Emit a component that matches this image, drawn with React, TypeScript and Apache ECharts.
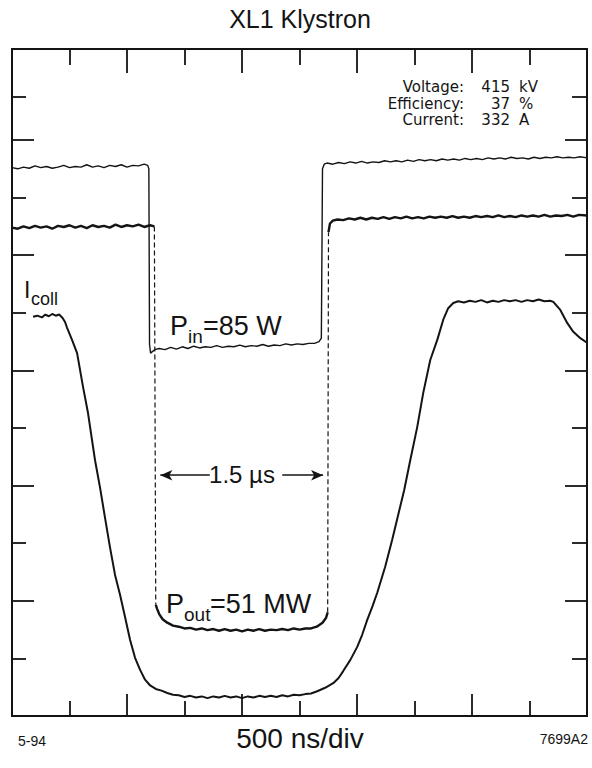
import React, { useEffect, useRef } from "react";
import * as echarts from "echarts";

// time axis in ns (500 ns/div), vertical axis in scope divisions
const xMajorTicks = [1000, 2000, 3000, 4000];
const xMinorTicks = [500, 1500, 2500, 3500, 4500];
const yMajorTicks = [2, 4, 6, 8, 10];
const yMinorTicks = [1, 3, 5, 7, 9, 10.75];

const pInTrace: [number, number][] = [
  [0, 9.52], [50, 9.5], [100, 9.53], [150, 9.51], [200, 9.55], [250, 9.52], [300, 9.54], [350, 9.51],
  [400, 9.53], [450, 9.56], [500, 9.52], [550, 9.54], [600, 9.53], [650, 9.57], [700, 9.53], [750, 9.55],
  [800, 9.52], [850, 9.56], [900, 9.54], [950, 9.57], [1000, 9.53], [1050, 9.56], [1100, 9.55], [1150, 9.58],
  [1180, 9.56], [1190, 9.5], [1196, 6.45], [1205, 6.3], [1240, 6.36], [1280, 6.38], [1330, 6.36], [1380, 6.4],
  [1430, 6.37], [1480, 6.41], [1530, 6.38], [1580, 6.42], [1630, 6.39], [1680, 6.41], [1730, 6.4], [1780, 6.43],
  [1830, 6.4], [1880, 6.42], [1930, 6.41], [1980, 6.44], [2030, 6.41], [2080, 6.43], [2130, 6.42], [2180, 6.45],
  [2230, 6.42], [2280, 6.44], [2330, 6.43], [2380, 6.46], [2430, 6.44], [2480, 6.46], [2530, 6.45], [2580, 6.47],
  [2630, 6.47], [2670, 6.5], [2690, 6.56], [2700, 9.5], [2715, 9.58], [2740, 9.6], [2790, 9.58], [2840, 9.61],
  [2890, 9.59], [2940, 9.62], [2990, 9.6], [3040, 9.63], [3090, 9.6], [3140, 9.62], [3190, 9.61], [3240, 9.64],
  [3290, 9.62], [3340, 9.64], [3390, 9.62], [3440, 9.65], [3490, 9.63], [3540, 9.66], [3590, 9.64], [3640, 9.66],
  [3690, 9.64], [3740, 9.67], [3790, 9.65], [3840, 9.67], [3890, 9.65], [3940, 9.68], [3990, 9.66], [4040, 9.68],
  [4090, 9.66], [4140, 9.69], [4190, 9.67], [4240, 9.69], [4290, 9.67], [4340, 9.7], [4390, 9.68], [4440, 9.69],
  [4490, 9.67], [4540, 9.7], [4590, 9.68], [4640, 9.7], [4690, 9.69], [4740, 9.71], [4790, 9.69], [4840, 9.7],
  [4890, 9.69], [4940, 9.71], [5000, 9.69],
];

const pOutBefore: [number, number][] = [
  [0, 8.48], [50, 8.46], [100, 8.5], [150, 8.47], [200, 8.51], [250, 8.48], [300, 8.5], [350, 8.46],
  [400, 8.51], [450, 8.49], [500, 8.52], [550, 8.48], [600, 8.51], [650, 8.47], [700, 8.52], [750, 8.49],
  [800, 8.51], [850, 8.48], [900, 8.53], [950, 8.49], [1000, 8.52], [1050, 8.5], [1100, 8.53], [1150, 8.49],
  [1200, 8.52], [1238, 8.5],
];
const pOutPulse: [number, number][] = [
  [1250, 1.93], [1262, 1.86], [1280, 1.77], [1310, 1.68], [1350, 1.62], [1400, 1.57], [1450, 1.55], [1500, 1.52],
  [1550, 1.53], [1600, 1.5], [1650, 1.52], [1700, 1.49], [1750, 1.51], [1800, 1.48], [1850, 1.51], [1900, 1.48],
  [1950, 1.5], [2000, 1.47], [2050, 1.5], [2100, 1.48], [2150, 1.51], [2200, 1.48], [2250, 1.5], [2300, 1.49],
  [2350, 1.51], [2400, 1.49], [2450, 1.52], [2500, 1.5], [2550, 1.52], [2600, 1.52], [2650, 1.55], [2700, 1.62],
  [2730, 1.7], [2745, 1.8],
];
const pOutAfter: [number, number][] = [
  [2752, 8.4], [2765, 8.55], [2790, 8.6], [2830, 8.62], [2880, 8.61], [2930, 8.64], [2980, 8.62], [3030, 8.65],
  [3080, 8.62], [3130, 8.65], [3180, 8.63], [3230, 8.66], [3280, 8.63], [3330, 8.66], [3380, 8.64], [3430, 8.67],
  [3480, 8.64], [3530, 8.66], [3580, 8.64], [3630, 8.67], [3680, 8.65], [3730, 8.67], [3780, 8.65], [3830, 8.68],
  [3880, 8.65], [3930, 8.67], [3980, 8.65], [4030, 8.68], [4080, 8.66], [4130, 8.68], [4180, 8.66], [4230, 8.69],
  [4280, 8.66], [4330, 8.68], [4380, 8.66], [4430, 8.69], [4480, 8.67], [4530, 8.69], [4580, 8.67], [4630, 8.7],
  [4680, 8.67], [4730, 8.69], [4780, 8.68], [4830, 8.7], [4880, 8.67], [4930, 8.7], [5000, 8.69],
];

const iCollTrace: [number, number][] = [
  [183, 6.93], [220, 6.95], [260, 6.92], [290, 6.97], [320, 6.94], [350, 6.98], [380, 6.95], [410, 6.97],
  [440, 6.91], [461, 6.84], [479, 6.74], [522, 6.53], [566, 6.3], [618, 5.71], [661, 5.26], [722, 4.44],
  [766, 3.96], [809, 3.44], [853, 2.92], [896, 2.45], [940, 2.1], [983, 1.72], [1027, 1.32], [1070, 1.01],
  [1114, 0.8], [1157, 0.63], [1201, 0.53], [1250, 0.47], [1300, 0.44], [1350, 0.4], [1400, 0.37], [1450, 0.36],
  [1500, 0.33], [1550, 0.35], [1600, 0.32], [1650, 0.34], [1700, 0.31], [1750, 0.34], [1800, 0.32], [1850, 0.35],
  [1900, 0.32], [1950, 0.34], [2000, 0.31], [2050, 0.34], [2100, 0.32], [2150, 0.35], [2200, 0.33], [2250, 0.35],
  [2300, 0.33], [2350, 0.36], [2400, 0.34], [2450, 0.37], [2500, 0.36], [2550, 0.38], [2600, 0.39], [2654, 0.43],
  [2723, 0.49], [2793, 0.57], [2840, 0.66], [2880, 0.78], [2941, 0.97], [3002, 1.2], [3045, 1.41], [3089, 1.67],
  [3132, 1.89], [3176, 2.14], [3245, 2.59], [3306, 3.06], [3358, 3.49], [3410, 3.92], [3463, 4.44], [3524, 5.02],
  [3576, 5.61], [3637, 6.18], [3698, 6.53], [3750, 6.88], [3793, 7.08], [3837, 7.17], [3880, 7.2], [3930, 7.18],
  [3980, 7.21], [4030, 7.19], [4080, 7.22], [4130, 7.18], [4180, 7.21], [4230, 7.19], [4280, 7.22], [4330, 7.2],
  [4380, 7.22], [4430, 7.19], [4480, 7.22], [4530, 7.2], [4580, 7.23], [4630, 7.2], [4680, 7.21], [4707, 7.19],
  [4768, 7.05], [4829, 6.82], [4881, 6.67], [4942, 6.56], [5000, 6.48],
];

const pulseArrowsNs = [[1720, 1290], [2350, 2705]];
const pulseArrowLevel = 4.18;

const readoutLabels = ["Voltage:", "Efficiency:", "Current:"];
const readoutValues = ["415", "37", "332"];
const readoutUnits = ["kV", "%", "A"];

const INK = "#141414";
const SANS = "Liberation Sans, Arial, Helvetica, sans-serif";

function tickAxis(kind: "x" | "y", position: string, values: number[], length: number) {
  return {
    type: "value",
    position,
    min: 0,
    max: kind === "x" ? 5000 : 11.58,
    axisLine: { show: false, onZero: false },
    axisLabel: { show: false },
    splitLine: { show: false },
    axisTick: {
      show: true,
      inside: true,
      length,
      customValues: values,
      lineStyle: { color: INK, width: 1.8 },
    },
  };
}

function text(x: number, y: number, t: string, size: number, align = "left", family = SANS) {
  return {
    type: "text",
    x,
    y,
    silent: true,
    style: { text: t, fontSize: size, fontFamily: family, fill: INK, align, verticalAlign: "middle" },
  };
}

export default function App() {
  const ref = useRef<HTMLDivElement>(null);
  useEffect(() => {
    if (!ref.current) return;
    const chart = echarts.init(ref.current, undefined, { renderer: "svg" });
    const line = (data: any, width: number, extra: any = {}) => ({
      type: "line",
      data,
      showSymbol: false,
      symbol: "none",
      silent: true,
      xAxisIndex: 0,
      yAxisIndex: 0,
      lineStyle: { color: INK, width, ...(extra.lineStyle || {}) },
      ...extra.rest,
    });
    const readout: any[] = [];
    readoutLabels.forEach((l, i) => {
      const y = 87 + i * 16.5;
      readout.push(text(464, y, l, 15, "right", "DejaVu Sans"));
      readout.push(text(510, y, readoutValues[i], 15, "right", "DejaVu Sans"));
      readout.push(text(519, y, readoutUnits[i], 15, "left", "DejaVu Sans"));
    });
    chart.setOption({
      animation: false,
      backgroundColor: "#ffffff",
      grid: {
        left: 12,
        top: 49,
        width: 575,
        height: 667,
        show: true,
        borderColor: INK,
        borderWidth: 2,
        backgroundColor: "transparent",
      },
      xAxis: [
        tickAxis("x", "bottom", xMajorTicks, 22),
        tickAxis("x", "bottom", xMinorTicks, 15),
        tickAxis("x", "top", xMajorTicks, 24),
        tickAxis("x", "top", xMinorTicks, 16),
      ],
      yAxis: [
        tickAxis("y", "left", yMajorTicks, 22),
        tickAxis("y", "left", yMinorTicks, 14),
        tickAxis("y", "right", yMajorTicks, 22),
        tickAxis("y", "right", yMinorTicks, 15),
      ],
      series: [
        line(pInTrace, 1.4),
        line(pOutBefore, 2.4),
        line(pOutPulse, 2.4, {
          rest: {
            markLine: {
              silent: true,
              symbol: ["none", "arrow"],
              symbolSize: [8, 12],
              label: { show: false },
              lineStyle: { color: INK, width: 1.6, type: "solid" },
              data: pulseArrowsNs.map((p) => [
                { coord: [p[0], pulseArrowLevel] },
                { coord: [p[1], pulseArrowLevel] },
              ]),
            },
          },
        }),
        line(pOutAfter, 2.4),
        line([pOutBefore[pOutBefore.length - 1], pOutPulse[0]], 1.2, { lineStyle: { type: [5, 3] } }),
        line([pOutPulse[pOutPulse.length - 1], pOutAfter[0]], 1.2, { lineStyle: { type: [5, 3] } }),
        line(iCollTrace, 2),
      ],
      graphic: [
        text(300, 19, "XL1 Klystron", 25, "center"),
        ...readout,
        text(24, 290, "I", 23),
        text(31, 299, "coll", 18),
        text(170, 326, "P", 27),
        text(188, 336, "in", 19),
        text(203, 326, "=85 W", 27),
        text(242, 474, "1.5 µs", 24, "center"),
        text(166, 604, "P", 27),
        text(184, 614, "out", 19),
        text(210, 604, "=51 MW", 27),
        text(18, 741, "5-94", 14),
        text(300, 738, "500 ns/div", 28, "center"),
        text(588, 739, "7699A2", 14, "right"),
      ],
    });
    return () => chart.dispose();
  }, []);
  return (
    <div
      ref={ref}
      style={{ position: "absolute", left: 0, top: 0, width: 592, height: 768, background: "#fff" }}
    />
  );
}
